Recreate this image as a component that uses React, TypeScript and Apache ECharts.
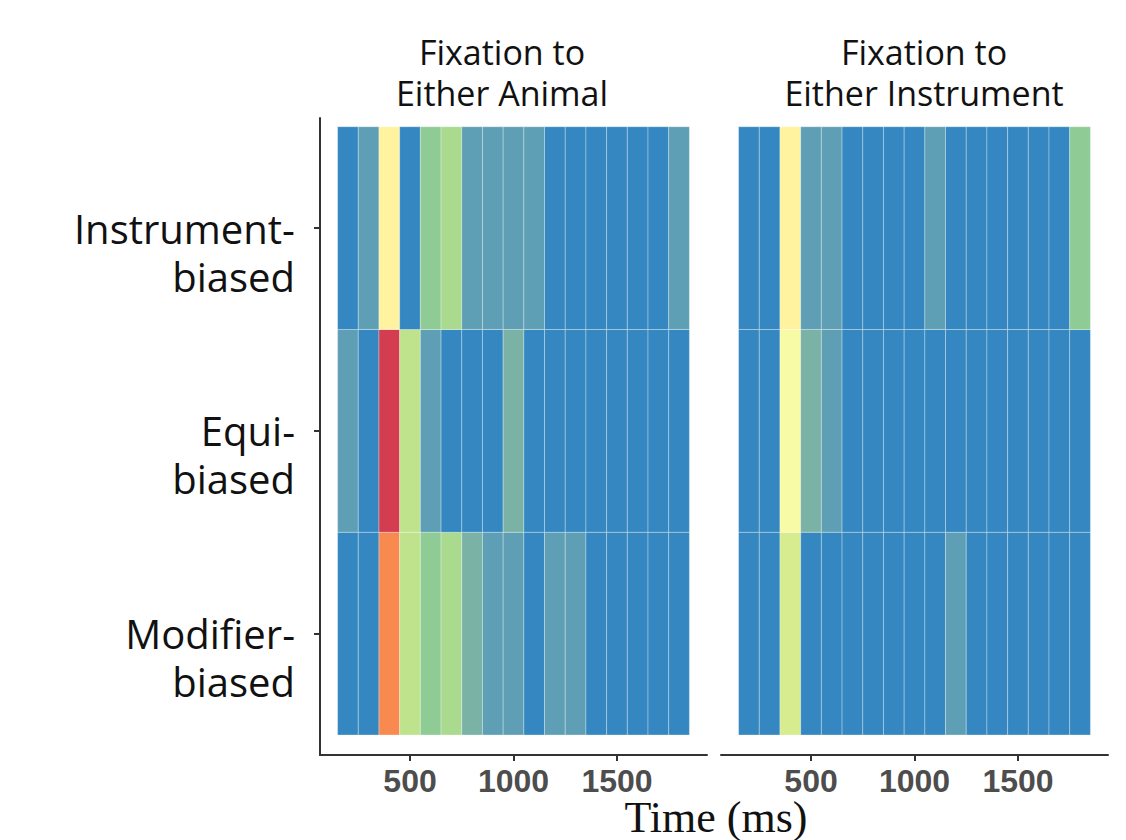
import React, { useEffect, useRef } from "react";
import * as echarts from "echarts";

// ---- data ----
const timeBins = [200, 300, 400, 500, 600, 700, 800, 900, 1000, 1100, 1200, 1300, 1400, 1500, 1600, 1700, 1800];
const binWidth = 100;
const rowLabels = ["Modifier-\nbiased", "Equi-\nbiased", "Instrument-\nbiased"]; // y index 0,1,2 (bottom -> top)
const panelTitles = ["Fixation to\nEither Animal", "Fixation to\nEither Instrument"];
const xTickValues = [500, 1000, 1500];
const yTickValues = [0, 1, 2];
const xAxisTitle = "Time (ms)";

// colour level scale (0 = red ... 10 = blue)
const levelColors = [
  "#d43d50", "#f88a50", "#fff3a0", "#f8fba6", "#d6ec8e", "#bee38c",
  "#a9da8e", "#8fcb94", "#7ab3a5", "#5f9fb5", "#3487c0",
];

// Panel 1: Fixation to Either Animal
const animalModifierBiased = [10, 10, 1, 5, 7, 6, 8, 9, 9, 10, 9, 9, 10, 10, 10, 10, 10];
const animalEquiBiased = [9, 10, 0, 5, 9, 10, 10, 10, 8, 10, 10, 10, 10, 10, 10, 10, 10];
const animalInstrumentBiased = [10, 9, 2, 10, 7, 6, 9, 9, 9, 9, 10, 10, 10, 10, 10, 10, 9];

// Panel 2: Fixation to Either Instrument
const instrModifierBiased = [10, 10, 4, 10, 10, 10, 10, 10, 10, 10, 9, 10, 10, 10, 10, 10, 10];
const instrEquiBiased = [10, 10, 3, 8, 9, 10, 10, 10, 10, 10, 10, 10, 10, 10, 10, 10, 10];
const instrInstrumentBiased = [10, 10, 2, 9, 9, 10, 10, 10, 10, 9, 10, 10, 10, 10, 10, 10, 7];

const panels = [
  [animalModifierBiased, animalEquiBiased, animalInstrumentBiased],
  [instrModifierBiased, instrEquiBiased, instrInstrumentBiased],
];

function buildData(rows: number[][]) {
  const out: number[][] = [];
  rows.forEach((row, ri) => {
    row.forEach((v, ci) => out.push([timeBins[ci], ri, v]));
  });
  return out;
}

export default function App() {
  const ref = useRef<HTMLDivElement>(null);

  useEffect(() => {
    document.body.style.margin = "0";
    if (!ref.current) return;
    const chart = echarts.init(ref.current, null, { renderer: "svg" });

    const axisColor = "#333333";
    const yMin = -0.5986;
    const yMax = 2.543;

    const renderItem = (params: any, api: any) => {
      const x = api.value(0);
      const y = api.value(1);
      const p0 = api.coord([x - binWidth / 2, y + 0.5]);
      const p1 = api.coord([x + binWidth / 2, y - 0.5]);
      return {
        type: "rect",
        shape: { x: p0[0], y: p0[1], width: p1[0] - p0[0], height: p1[1] - p0[1] },
        style: { fill: api.visual("color"), stroke: "rgba(255,255,255,0.3)", lineWidth: 1 },
      };
    };

    const titleStyle = (text: string) => ({
      text,
      font: "34px 'Open Sans'",
      fill: "#111",
      align: "center",
      verticalAlign: "top",
      lineHeight: 41,
    });

    const option: any = {
      animation: false,
      backgroundColor: "#ffffff",
      grid: [
        { left: 320, top: 118, width: 387, height: 637 },
        { left: 721, top: 118, width: 387, height: 637 },
      ],
      xAxis: [0, 1].map((i) => ({
        type: "value",
        gridIndex: i,
        min: 65,
        max: 1935,
        splitLine: { show: false },
        axisLine: { show: true, onZero: false, lineStyle: { color: axisColor, width: 2 } },
        axisTick: { show: true, length: 6, customValues: xTickValues, lineStyle: { color: axisColor, width: 2 } },
        axisLabel: {
          customValues: xTickValues,
          formatter: (v: number) => String(v),
          fontFamily: "Liberation Sans",
          fontWeight: "bold",
          fontSize: 32,
          color: "#4d4d4d",
          margin: 10,
        },
      })),
      yAxis: [
        {
          type: "value",
          gridIndex: 0,
          min: yMin,
          max: yMax,
          splitLine: { show: false },
          axisLine: { show: true, onZero: false, lineStyle: { color: axisColor, width: 2 } },
          axisTick: { show: true, length: 6, customValues: yTickValues, lineStyle: { color: axisColor, width: 2 } },
          axisLabel: {
            customValues: yTickValues,
            // leading blank line keeps the first label line centred on the tick
            formatter: (v: number) => "\n" + rowLabels[Math.round(v)],
            fontFamily: "Open Sans",
            fontSize: 40,
            lineHeight: 48,
            color: "#111111",
            align: "right",
            verticalAlign: "middle",
            margin: 25,
          },
        },
        { type: "value", gridIndex: 1, min: yMin, max: yMax, show: false },
      ],
      visualMap: {
        type: "continuous",
        show: false,
        min: 0,
        max: levelColors.length - 1,
        dimension: 2,
        seriesIndex: [0, 1],
        inRange: { color: levelColors },
      },
      series: panels.map((rows, i) => ({
        type: "custom",
        xAxisIndex: i,
        yAxisIndex: i,
        data: buildData(rows),
        encode: { x: 0, y: 1 },
        renderItem,
      })),
      graphic: [
        { type: "text", x: 502, y: 31, style: titleStyle(panelTitles[0]) },
        { type: "text", x: 924, y: 31, style: titleStyle(panelTitles[1]) },
        {
          type: "text",
          x: 716,
          y: 839,
          style: {
            text: xAxisTitle,
            font: "44px 'Liberation Serif'",
            fill: "#111",
            align: "center",
            verticalAlign: "bottom",
          },
        },
      ],
    };

    chart.setOption(option);
    return () => chart.dispose();
  }, []);

  return <div ref={ref} style={{ width: 1126, height: 840 }} />;
}
